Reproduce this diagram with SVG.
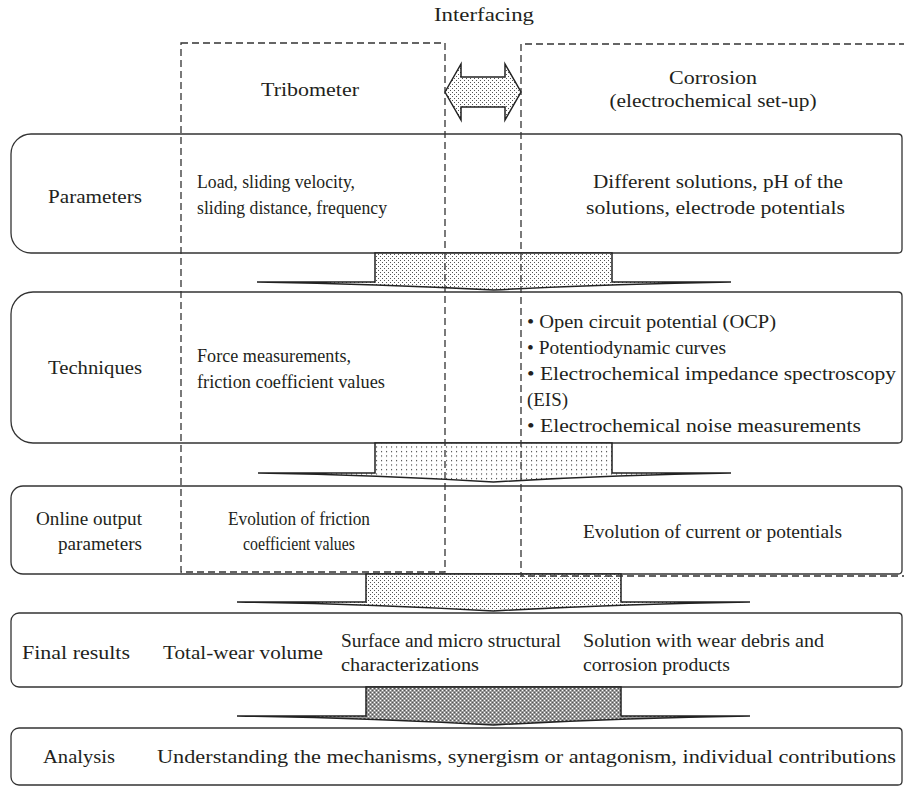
<svg xmlns="http://www.w3.org/2000/svg" width="904" height="788" viewBox="0 0 904 788">
<style>
.box{fill:#fff;stroke:#333;stroke-width:1.3}
.arr{stroke:#222;stroke-width:1.5;stroke-linejoin:miter}
.dash{fill:none;stroke:#333;stroke-width:1.3;stroke-dasharray:7 4}
text{font-family:"Liberation Serif","Times New Roman",serif;font-size:19px;fill:#231f20}
text.sm{font-size:18px}
</style>
<defs>
<pattern id="dotA" patternUnits="userSpaceOnUse" width="4" height="4">
<rect width="4" height="4" fill="#fff"/>
<rect x="0" y="0" width="1" height="1" fill="#555"/>
<rect x="2" y="2" width="1" height="1" fill="#555"/>
</pattern>
<pattern id="dotB" patternUnits="userSpaceOnUse" width="5" height="4.5">
<rect width="5" height="4.5" fill="#fff"/>
<rect x="1" y="1" width="1.1" height="1.1" fill="#333"/>
</pattern>
<pattern id="hatch" patternUnits="userSpaceOnUse" width="4" height="4">
<rect width="4" height="4" fill="#999"/>
<rect x="0" y="0" width="1" height="1" fill="#fff"/>
<rect x="2" y="2" width="1" height="1" fill="#fff"/>
<rect x="2" y="0" width="1" height="1" fill="#555"/>
<rect x="0" y="2" width="1" height="1" fill="#555"/>
</pattern>
</defs>

<text x="484" y="21" text-anchor="middle" textLength="100" lengthAdjust="spacingAndGlyphs">Interfacing</text>

<g id="box-parameters">
<path class="box" d="M31,134 H898 Q902,134 902,138 V249 Q902,253 898,253 H31 A20,20 0 0 1 11,233 V154 A20,20 0 0 1 31,134 Z"/>
<text x="48" y="203" textLength="94" lengthAdjust="spacingAndGlyphs">Parameters</text>
<text class="sm" x="197" y="188" textLength="158" lengthAdjust="spacingAndGlyphs">Load, sliding velocity,</text>
<text class="sm" x="197" y="214" textLength="190" lengthAdjust="spacingAndGlyphs">sliding distance, frequency</text>
<text x="593" y="188" textLength="250" lengthAdjust="spacingAndGlyphs">Different solutions, pH of the</text>
<text x="586" y="214" textLength="259" lengthAdjust="spacingAndGlyphs">solutions, electrode potentials</text>
</g>

<g id="box-techniques">
<path class="box" d="M33,292 H898 Q902,292 902,296 V439 Q902,443 898,443 H33 A22,22 0 0 1 11,421 V314 A22,22 0 0 1 33,292 Z"/>
<text x="48" y="374" textLength="94" lengthAdjust="spacingAndGlyphs">Techniques</text>
<text class="sm" x="197" y="362" textLength="154" lengthAdjust="spacingAndGlyphs">Force measurements,</text>
<text class="sm" x="197" y="388" textLength="188" lengthAdjust="spacingAndGlyphs">friction coefficient values</text>
<text x="527" y="328" textLength="249" lengthAdjust="spacingAndGlyphs">• Open circuit potential (OCP)</text>
<text x="527" y="354" textLength="199" lengthAdjust="spacingAndGlyphs">• Potentiodynamic curves</text>
<text x="527" y="380" textLength="369" lengthAdjust="spacingAndGlyphs">• Electrochemical impedance spectroscopy</text>
<text x="527" y="406" textLength="41" lengthAdjust="spacingAndGlyphs">(EIS)</text>
<text x="527" y="432" textLength="334" lengthAdjust="spacingAndGlyphs">• Electrochemical noise measurements</text>
</g>

<g id="box-online">
<path class="box" d="M23,486 H898 Q902,486 902,490 V570 Q902,574 898,574 H23 A12,12 0 0 1 11,562 V498 A12,12 0 0 1 23,486 Z"/>
<text x="36" y="525" textLength="106" lengthAdjust="spacingAndGlyphs">Online output</text>
<text x="58" y="550" textLength="84" lengthAdjust="spacingAndGlyphs">parameters</text>
<text class="sm" x="228" y="525" textLength="142" lengthAdjust="spacingAndGlyphs">Evolution of friction</text>
<text class="sm" x="243" y="550" textLength="112" lengthAdjust="spacingAndGlyphs">coefficient values</text>
<text x="583" y="538" textLength="259" lengthAdjust="spacingAndGlyphs">Evolution of current or potentials</text>
</g>

<g id="box-final">
<path class="box" d="M19,613 H898 Q902,613 902,617 V683 Q902,687 898,687 H19 A8,8 0 0 1 11,679 V621 A8,8 0 0 1 19,613 Z"/>
<text x="22" y="659" textLength="108" lengthAdjust="spacingAndGlyphs">Final results</text>
<text x="163" y="659" textLength="160" lengthAdjust="spacingAndGlyphs">Total-wear volume</text>
<text x="341" y="647" textLength="220" lengthAdjust="spacingAndGlyphs">Surface and micro structural</text>
<text x="341" y="671" textLength="138" lengthAdjust="spacingAndGlyphs">characterizations</text>
<text x="583" y="647" textLength="241" lengthAdjust="spacingAndGlyphs">Solution with wear debris and</text>
<text x="583" y="671" textLength="147" lengthAdjust="spacingAndGlyphs">corrosion products</text>
</g>

<g id="box-analysis">
<path class="box" d="M19,728 H898 Q902,728 902,732 V781 Q902,785 898,785 H19 A8,8 0 0 1 11,777 V736 A8,8 0 0 1 19,728 Z"/>
<text x="43" y="763" textLength="72" lengthAdjust="spacingAndGlyphs">Analysis</text>
<text x="157" y="763" textLength="739" lengthAdjust="spacingAndGlyphs">Understanding the mechanisms, synergism or antagonism, individual contributions</text>
</g>

<g id="connectors">
<path class="arr" fill="url(#dotA)" d="M257,282 H375 V253 H612 V282 H731 Q610,284 493.5,290 Q377,284 257,282 Z"/>
<path class="arr" fill="url(#dotB)" d="M258,473 H375 V443 H612 V473 H731 Q610,475 493.5,482 Q377,475 258,473 Z"/>
<path class="arr" fill="url(#dotA)" d="M237,602 H366 V574 H621 V602 H750 Q620,604 493.5,611 Q367,604 237,602 Z"/>
<path class="arr" fill="url(#hatch)" d="M237,716 H366 V687 H621 V716 H750 Q620,718 493.5,725 Q367,718 237,716 Z"/>
<path class="arr" fill="url(#dotA)" stroke-width="1.3" d="M445,92 L461,64 V77 H505 V64 L521,92 L505,120 V107 H461 V120 Z"/>
</g>

<g id="tribometer">
<rect class="dash" x="181" y="43" width="264" height="529"/>
<text x="310" y="96" text-anchor="middle" textLength="98" lengthAdjust="spacingAndGlyphs">Tribometer</text>
</g>

<g id="corrosion">
<path class="dash" d="M906,44 H521 V576 H906"/>
<text x="713" y="84" text-anchor="middle" textLength="88" lengthAdjust="spacingAndGlyphs">Corrosion</text>
<text x="713" y="107" text-anchor="middle" textLength="207" lengthAdjust="spacingAndGlyphs">(electrochemical set-up)</text>
</g>
</svg>
